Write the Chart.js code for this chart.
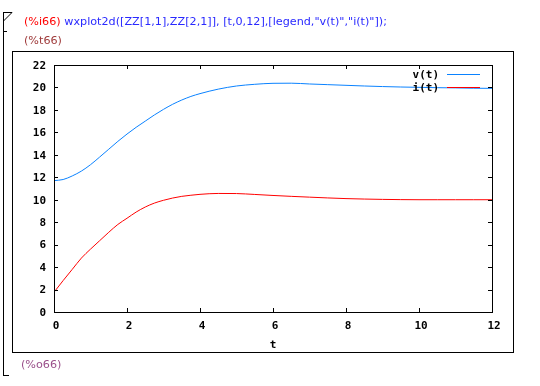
<!DOCTYPE html>
<html>
<head>
<meta charset="utf-8">
<script src="https://cdn.jsdelivr.net/npm/chart.js@4.4.1/dist/chart.umd.min.js"></script>
<style>
  html, body { margin: 0; padding: 0; background: #fff; }
  #wrap { position: relative; width: 540px; height: 386px; overflow: hidden; }
  canvas { position: absolute; left: 0; top: 0; }
  .txt { position: absolute; font-family: "DejaVu Sans", Verdana, sans-serif; font-size: 11.2px; white-space: pre; line-height: 14px; }
  .ln { position: absolute; background: #000; }
</style>
</head>
<body>
<div id="wrap">
  <canvas id="c" width="540" height="386"></canvas>
  <div class="ln" style="left:3px;top:12px;width:1px;height:364px;"></div>
  <div class="ln" style="left:3px;top:12px;width:9px;height:1px;"></div>
  <div class="ln" style="left:3px;top:31px;width:4px;height:1px;"></div>
  <div class="ln" style="left:3px;top:375px;width:6px;height:1px;"></div>
  <svg style="position:absolute;left:0;top:0" width="20" height="30"><line x1="12" y1="12.5" x2="3.5" y2="21" stroke="#000" stroke-width="1"/></svg>
  <div class="ln" style="left:12px;top:51px;width:502px;height:1px;"></div>
  <div class="ln" style="left:12px;top:352px;width:502px;height:1px;"></div>
  <div class="ln" style="left:12px;top:51px;width:1px;height:302px;"></div>
  <div class="ln" style="left:513px;top:51px;width:1px;height:302px;"></div>
  <div class="txt" style="left:24px;top:15px;"><span style="color:#ff0000">(%i66)</span> <span style="color:#2a2aff">wxplot2d([ZZ[1,1],ZZ[2,1]], [t,0,12],[legend,"v(t)","i(t)"]);</span></div>
  <div class="txt" style="left:24px;top:34px;color:#a03c3c">(%t66)</div>
  <div class="txt" style="left:21px;top:358px;color:#9a4f8a">(%o66)</div>
</div>
<script>
const tValues = [0,0.25,0.5,0.75,1,1.25,1.5,1.75,2,2.25,2.5,2.75,3,3.25,3.5,3.75,4,4.5,5,5.5,6,6.5,7,7.5,8,8.5,9,9.5,10,10.5,11,11.5,12];
const vValues = [11.7,11.8,12.12,12.55,13.12,13.8,14.5,15.2,15.85,16.45,17.0,17.55,18.05,18.5,18.88,19.2,19.45,19.85,20.13,20.28,20.37,20.38,20.31,20.25,20.19,20.13,20.08,20.04,20.01,19.98,19.96,19.93,19.92];
const iValues = [1.76,2.8,3.8,4.8,5.6,6.35,7.1,7.8,8.35,8.9,9.35,9.7,9.95,10.15,10.3,10.4,10.48,10.56,10.55,10.47,10.38,10.3,10.23,10.16,10.1,10.06,10.03,10.01,10.0,10.0,10.0,10.0,10.0];
const seriesLabels = ["v(t)", "i(t)"];
const seriesColors = ["#0a82ff", "#ff0000"];
const xTicks = [0,2,4,6,8,10,12];
const yTicks = [0,2,4,6,8,10,12,14,16,18,20,22];
const xTitle = "t";

const tickFont = { family: "'DejaVu Sans Mono', monospace", size: 11, weight: "bold" };
const target = { left: 54, top: 65, right: 492, bottom: 312 };
const fit = { padTop: 65, padRight: 48, xH: 74, yW: 54 };

const framePlugin = {
  id: "frame",
  afterDatasetsDraw(chart) {
    const ctx = chart.ctx;
    ctx.save();
    ctx.font = "bold 11px 'DejaVu Sans Mono', monospace";
    ctx.fillStyle = "#000";
    ctx.textAlign = "right";
    ctx.textBaseline = "middle";
    chart.data.datasets.forEach((ds, k) => {
      const y = 74.5 + k * 13;
      ctx.fillText(ds.label, 439, y + 1);
      ctx.strokeStyle = ds.borderColor;
      ctx.lineWidth = 1;
      ctx.beginPath();
      ctx.moveTo(447, y);
      ctx.lineTo(480, y);
      ctx.stroke();
    });
    ctx.restore();
  },
  afterDraw(chart) {
    const ctx = chart.ctx;
    const a = chart.chartArea;
    const xs = chart.scales.x, ys = chart.scales.y;
    ctx.save();
    ctx.strokeStyle = "#000";
    ctx.lineWidth = 1;
    ctx.strokeRect(Math.round(a.left) + 0.5, Math.round(a.top) + 0.5, Math.round(a.right - a.left), Math.round(a.bottom - a.top));
    ctx.beginPath();
    const L = 4;
    xTicks.forEach(v => {
      const px = Math.round(xs.getPixelForValue(v)) + 0.5;
      ctx.moveTo(px, a.bottom); ctx.lineTo(px, a.bottom - L);
      ctx.moveTo(px, a.top); ctx.lineTo(px, a.top + L);
    });
    yTicks.forEach(v => {
      const py = Math.round(ys.getPixelForValue(v)) + 0.5;
      ctx.moveTo(a.left, py); ctx.lineTo(a.left + L, py);
      ctx.moveTo(a.right, py); ctx.lineTo(a.right - L, py);
    });
    ctx.stroke();
    ctx.font = "bold 11px 'DejaVu Sans Mono', monospace";
    ctx.fillStyle = "#000";
    ctx.textAlign = "center";
    ctx.textBaseline = "middle";
    ctx.fillText(xTitle, (a.left + a.right) / 2, 345);
    ctx.restore();
  }
};

const chart = new Chart(document.getElementById("c"), {
  type: "line",
  data: {
    datasets: [
      { label: seriesLabels[0], data: tValues.map((t, k) => ({ x: t, y: vValues[k] })), borderColor: seriesColors[0], borderWidth: 1, pointRadius: 0, cubicInterpolationMode: "monotone", fill: false },
      { label: seriesLabels[1], data: tValues.map((t, k) => ({ x: t, y: iValues[k] })), borderColor: seriesColors[1], borderWidth: 1, pointRadius: 0, cubicInterpolationMode: "monotone", fill: false }
    ]
  },
  options: {
    responsive: false,
    animation: false,
    events: [],
    layout: { padding: { left: 0, right: fit.padRight, top: fit.padTop, bottom: 0 } },
    plugins: { legend: { display: false }, tooltip: { enabled: false } },
    scales: {
      x: {
        type: "linear", min: 0, max: 12,
        afterBuildTicks: s => { s.ticks = xTicks.map(v => ({ value: v })); },
        afterFit: s => { s.height = fit.xH; },
        grid: { display: false, drawTicks: false },
        border: { display: false },
        ticks: { font: tickFont, color: "#000", padding: 8, maxRotation: 0, labelOffset: 2 }
      },
      y: {
        type: "linear", min: 0, max: 22,
        afterBuildTicks: s => { s.ticks = yTicks.map(v => ({ value: v })); },
        afterFit: s => { s.width = fit.yW; },
        grid: { display: false, drawTicks: false },
        border: { display: false },
        ticks: { font: tickFont, color: "#000", padding: 8, labelOffset: 1 }
      }
    }
  },
  plugins: [framePlugin]
});

for (let it = 0; it < 3; it++) {
  const a = chart.chartArea;
  fit.padTop += target.top - a.top;
  fit.padRight += a.right - target.right;
  fit.xH += a.bottom - target.bottom;
  fit.yW += target.left - a.left;
  chart.options.layout.padding = { left: 0, right: fit.padRight, top: fit.padTop, bottom: 0 };
  chart.update();
}
</script>
</body>
</html>
